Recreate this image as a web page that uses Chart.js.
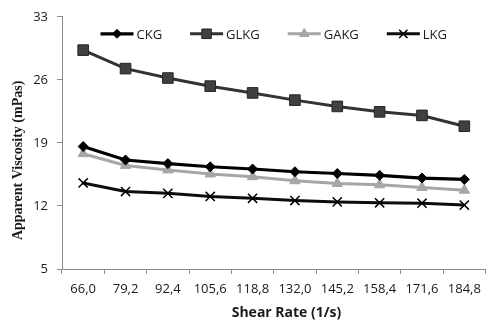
<!DOCTYPE html>
<html>
<head>
<meta charset="utf-8">
<script src="https://cdn.jsdelivr.net/npm/chart.js@4/dist/chart.umd.min.js"></script>
<style>
html,body{margin:0;padding:0;background:#fff;}
#wrap{width:494px;height:321px;position:relative;}
</style>
</head>
<body>
<div id="wrap"><canvas id="c"></canvas></div>
<script>
const categories = ["66,0","79,2","92,4","105,6","118,8","132,0","145,2","158,4","171,6","184,8"];
const seriesNames = ["CKG","GLKG","GAKG","LKG"];
const ckg  = [18.6, 17.1, 16.7, 16.35, 16.1, 15.8, 15.6, 15.4, 15.1, 14.95];
const glkg = [29.3, 27.25, 26.2, 25.3, 24.55, 23.75, 23.05, 22.45, 22.05, 20.85];
const gakg = [17.8, 16.5, 16.0, 15.55, 15.25, 14.8, 14.5, 14.35, 14.05, 13.75];
const lkg  = [14.55, 13.6, 13.4, 13.05, 12.85, 12.6, 12.45, 12.35, 12.3, 12.1];
const yTicks = [5, 12, 19, 26, 33];
const xTitle = "Shear Rate (1/s)";
const yTitle = "Apparent Viscosity (mPas)";

const tickFont = {family: "'Open Sans', sans-serif", size: 13};
const axisColor = "#8c8c8c";
const textColor = "#1a1a1a";

const legendPlugin = {
  id: 'inlineLegend',
  afterDraw(chart) {
    const ctx = chart.ctx;
    const area = chart.chartArea;
    const lineLen = 33, gapText = 3, gapItem = 28, yc = area.top + 17;
    ctx.save();
    ctx.font = "13px 'Open Sans', sans-serif";
    const items = chart.data.datasets.map(ds => ({ds, w: lineLen + gapText + ctx.measureText(ds.label).width}));
    const total = items.reduce((s, it) => s + it.w, 0) + gapItem * (items.length - 1);
    let x = (area.left + area.right) / 2 - total / 2;
    items.forEach(it => {
      const ds = it.ds;
      ctx.strokeStyle = ds.borderColor;
      ctx.lineWidth = ds.borderWidth;
      ctx.beginPath();
      ctx.moveTo(x, yc);
      ctx.lineTo(x + lineLen, yc);
      ctx.stroke();
      ctx.fillStyle = ds.pointBackgroundColor;
      ctx.strokeStyle = ds.pointBorderColor;
      ctx.lineWidth = ds.pointBorderWidth;
      Chart.helpers.drawPoint(ctx, {pointStyle: ds.pointStyle, radius: ds.pointRadius * 0.9, rotation: 0, borderWidth: ds.pointBorderWidth}, x + lineLen / 2, yc);
      ctx.fillStyle = textColor;
      ctx.textAlign = 'left';
      ctx.textBaseline = 'middle';
      ctx.fillText(ds.label, x + lineLen + gapText, yc + 1);
      x += it.w + gapItem;
    });
    ctx.restore();
  }
};

new Chart(document.getElementById('c'), {
  type: 'line',
  data: {
    labels: categories,
    datasets: [
      {label: seriesNames[0], data: ckg, borderColor: '#000000', borderWidth: 3.2, pointStyle: 'rectRot', pointRadius: 5, pointBackgroundColor: '#000000', pointBorderColor: '#000000', pointBorderWidth: 1},
      {label: seriesNames[1], data: glkg, borderColor: '#333333', borderWidth: 3, pointStyle: 'rect', pointRadius: 7.5, pointBackgroundColor: '#404040', pointBorderColor: '#262626', pointBorderWidth: 1},
      {label: seriesNames[2], data: gakg, borderColor: '#a6a6a6', borderWidth: 3, pointStyle: 'triangle', pointRadius: 6, pointBackgroundColor: '#a6a6a6', pointBorderColor: '#a6a6a6', pointBorderWidth: 1},
      {label: seriesNames[3], data: lkg, borderColor: '#0d0d0d', borderWidth: 3, pointStyle: 'crossRot', pointRadius: 6.5, pointBackgroundColor: '#000000', pointBorderColor: '#000000', pointBorderWidth: 1.5}
    ]
  },
  options: {
    responsive: true,
    maintainAspectRatio: false,
    animation: false,
    layout: {padding: {top: 16, right: 0, left: 0, bottom: 0}},
    plugins: {legend: {display: false}, tooltip: {enabled: false}},
    elements: {line: {tension: 0}},
    scales: {
      x: {
        offset: true,
        grid: {display: true, drawOnChartArea: false, drawTicks: true, tickLength: 5, offset: true, color: axisColor},
        border: {display: true, color: axisColor, width: 1},
        ticks: {font: tickFont, color: textColor, maxRotation: 0, autoSkip: false, padding: 7},
        title: {display: true, text: "\u00a0\u00a0\u00a0\u00a0\u00a0\u00a0\u00a0" + xTitle, color: textColor, font: {family: "'Open Sans', sans-serif", size: 14, weight: 'bold'}, padding: {top: 0, bottom: 0}},
        afterFit(scale) { scale.height = 52; }
      },
      y: {
        min: 5, max: 33,
        afterBuildTicks(scale) { scale.ticks = yTicks.map(v => ({value: v})); },
        grid: {display: true, drawOnChartArea: false, drawTicks: true, tickLength: 5, color: axisColor},
        border: {display: true, color: axisColor, width: 1},
        ticks: {font: tickFont, color: textColor, padding: 9},
        title: {display: true, text: yTitle + "\u00a0\u00a0\u00a0\u00a0\u00a0\u00a0\u00a0\u00a0\u00a0\u00a0", color: textColor, font: {family: "'Liberation Serif', serif", size: 14, weight: 'bold'}, padding: {top: 10, bottom: 0}},
        afterFit(scale) { scale.width = 62; }
      }
    }
  },
  plugins: [legendPlugin]
});
</script>
</body>
</html>
